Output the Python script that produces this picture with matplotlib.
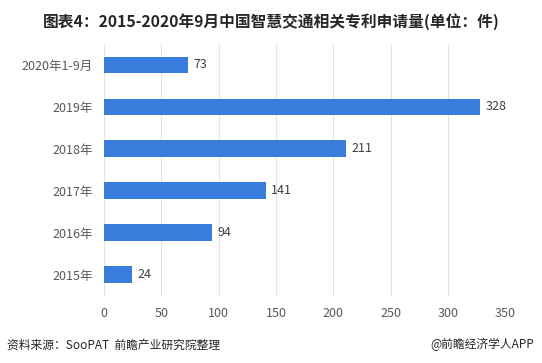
import matplotlib.pyplot as plt
import numpy as np

plt.rcParams['font.family'] = ['Noto Sans CJK SC', 'DejaVu Sans']

categories = ['2020年1-9月', '2019年', '2018年', '2017年', '2016年', '2015年']
values = [73, 328, 211, 141, 94, 24]
xticks = [0, 50, 100, 150, 200, 250, 300, 350]

fig = plt.figure(figsize=(5.42, 3.63), dpi=100)
ax = fig.add_axes([0.192, 0.185, 0.74, 0.694])

y = np.arange(len(categories))
ax.barh(y, values, height=0.4, color='#3A7CDB')
for yi, v in zip(y, values):
    ax.text(v + 5, yi, str(v), va='center', ha='left', fontsize=9, color='#404040')

ax.set_yticks(y)
ax.set_yticklabels(categories, fontsize=9, color='#595959')
ax.set_ylim(len(categories) - 0.5, -0.5)
ax.set_xlim(0, 350)
ax.set_xticks(xticks)
ax.set_xticklabels([str(t) for t in xticks], fontsize=9, color='#595959')
ax.tick_params(length=0, pad=8)
ax.tick_params(axis='y', pad=8)
ax.grid(axis='x', color='#E3E3E3', linewidth=0.8)
ax.set_axisbelow(True)
for s in ax.spines.values():
    s.set_visible(False)

fig.text(0.5, 0.94, '图表4：2015-2020年9月中国智慧交通相关专利申请量(单位：件)',
         ha='center', va='center', fontsize=11.3, fontweight='bold', color='#262626')
fig.text(0.012, 0.05, '资料来源：SooPAT  前瞻产业研究院整理', ha='left', va='center',
         fontsize=8.5, color='#262626')
fig.text(0.985, 0.05, '@前瞻经济学人APP', ha='right', va='center',
         fontsize=8.5, color='#262626')

plt.savefig('out.png', dpi=100)
